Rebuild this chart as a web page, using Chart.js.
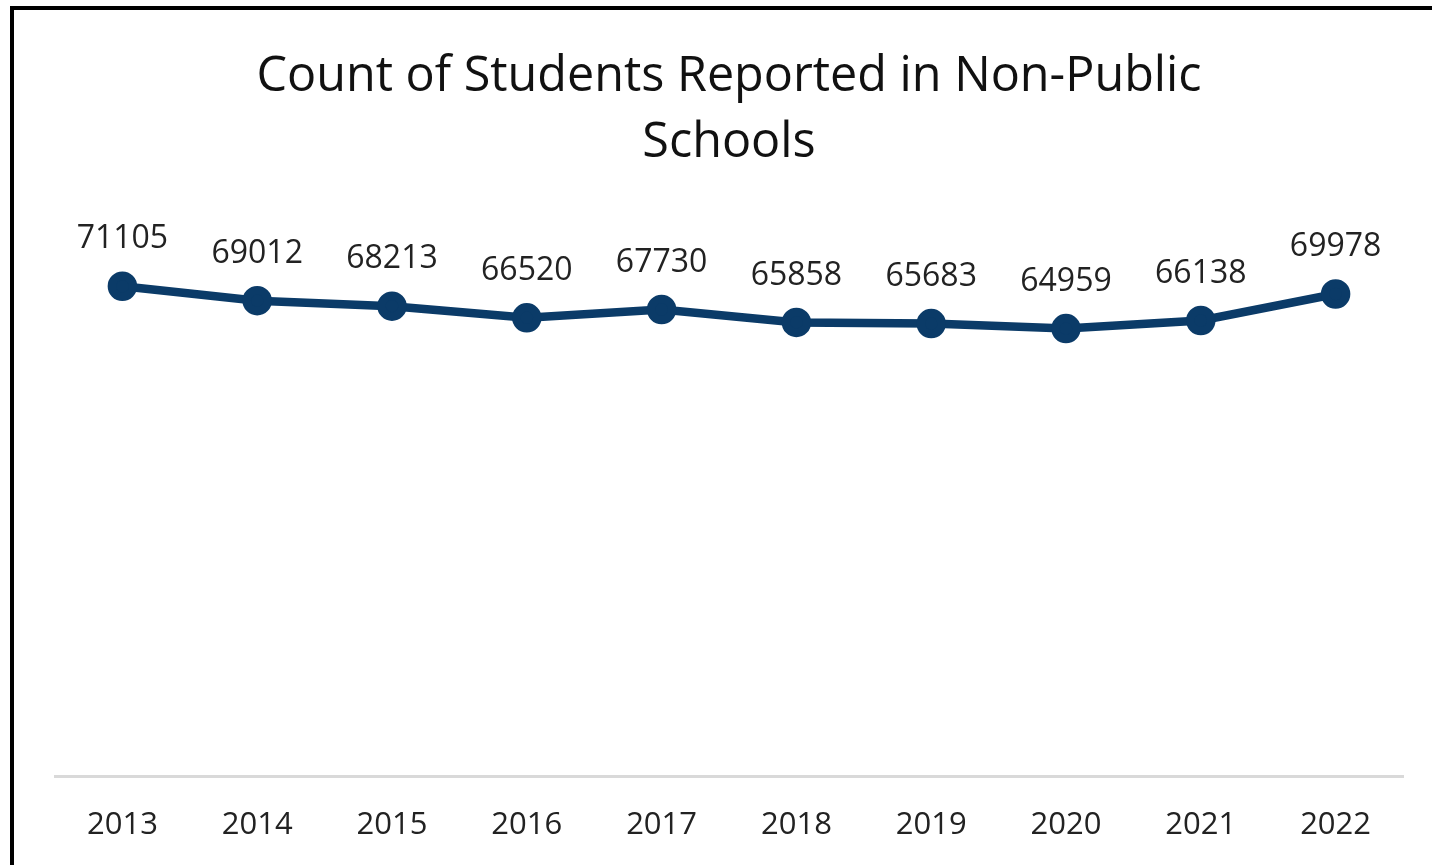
<!DOCTYPE html>
<html>
<head>
<meta charset="utf-8">
<script src="https://cdn.jsdelivr.net/npm/chart.js@4.4.0/dist/chart.umd.min.js"></script>
<style>
  html, body { margin: 0; padding: 0; background: #fff; }
  #wrap { position: relative; width: 1432px; height: 865px; overflow: hidden; }
  #frame { position: absolute; left: 10px; top: 6px; right: -10px; bottom: -10px;
           border-top: 4px solid #000; border-left: 4px solid #000; pointer-events: none; }
  canvas { position: absolute; left: 0; top: 0; }
</style>
</head>
<body>
<div id="wrap">
  <canvas id="c" width="1432" height="865"></canvas>
  <div id="frame"></div>
</div>
<script>
const titleLines = ["Count of Students Reported in Non-Public", "Schools"];
const years = ["2013","2014","2015","2016","2017","2018","2019","2020","2021","2022"];
const students = [71105, 69012, 68213, 66520, 67730, 65858, 65683, 64959, 66138, 69978];
const yMin = 0;
const yMax = 80000;

const FONT = "'Open Sans', 'Noto Sans', sans-serif";
const lineColor = "#0b3b68";

const titlePlugin = {
  id: 'customTitle',
  afterDraw(chart) {
    const ctx = chart.ctx;
    ctx.save();
    ctx.fillStyle = '#111';
    ctx.font = `48.5px ${FONT}`;
    ctx.textAlign = 'center';
    ctx.textBaseline = 'middle';
    ctx.fillText(titleLines[0], 729, 77);
    ctx.fillText(titleLines[1], 729, 143);
    ctx.restore();
  }
};

const labelPlugin = {
  id: 'pointLabels',
  afterDatasetsDraw(chart) {
    const ctx = chart.ctx;
    const meta = chart.getDatasetMeta(0);
    ctx.save();
    ctx.fillStyle = '#222';
    ctx.font = `32px ${FONT}`;
    ctx.textAlign = 'center';
    ctx.textBaseline = 'middle';
    meta.data.forEach((pt, i) => {
      ctx.fillText(String(chart.data.datasets[0].data[i]), pt.x, pt.y - 47);
    });
    ctx.restore();
  }
};

new Chart(document.getElementById('c'), {
  type: 'line',
  data: {
    labels: years,
    datasets: [{
      data: students,
      borderColor: lineColor,
      backgroundColor: lineColor,
      borderWidth: 8.5,
      pointRadius: 10.5,
      pointHoverRadius: 10.5,
      pointBackgroundColor: lineColor,
      pointBorderColor: lineColor,
      tension: 0,
      clip: false
    }]
  },
  options: {
    responsive: false,
    animation: false,
    devicePixelRatio: 1,
    layout: { padding: { left: 55, right: 29, top: 225, bottom: 0 } },
    plugins: { legend: { display: false }, tooltip: { enabled: false }, title: { display: false } },
    scales: {
      x: {
        offset: true,
        grid: { display: false, drawTicks: false },
        border: { display: true, color: '#d9d9d9', width: 3 },
        ticks: { color: '#222', font: { family: FONT, size: 31 }, padding: 31, maxRotation: 0 },
        afterFit(scale) { scale.height = 89; }
      },
      y: {
        display: false,
        min: yMin,
        max: yMax
      }
    }
  },
  plugins: [titlePlugin, labelPlugin]
});
</script>
</body>
</html>
